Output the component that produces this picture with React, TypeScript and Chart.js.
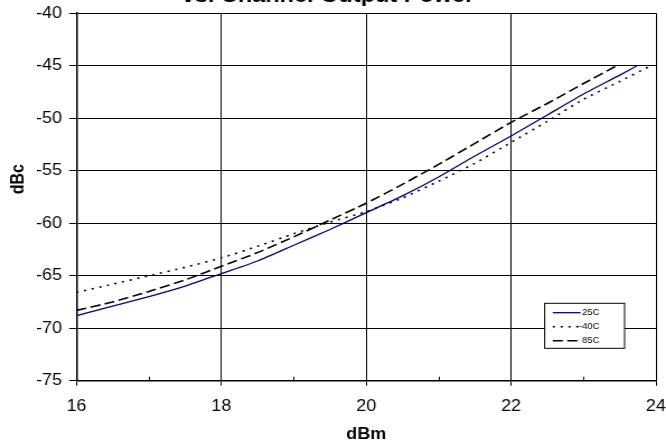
import React, { useEffect, useRef } from 'react';
import { Chart, registerables } from 'chart.js';

Chart.register(...registerables);

const TITLE = 'vs. Channel Output Power';
const X_TITLE = 'dBm';
const Y_TITLE = 'dBc';
const SERIES_LABELS = ['25C', '-40C', '85C'];

const X_25C = [16, 16.5, 17, 17.5, 18, 18.5, 19, 19.5, 20, 20.5, 21, 21.5, 22, 22.5, 23, 23.5, 23.74];
const Y_25C = [-68.8, -67.9, -67.0, -66.0, -64.8, -63.6, -62.1, -60.6, -59.0, -57.4, -55.6, -53.6, -51.7, -49.7, -47.7, -45.9, -45.0];

const X_M40C = [16, 16.5, 17, 17.5, 18, 18.5, 19, 19.5, 20, 20.5, 21, 21.5, 22, 22.5, 23, 23.5, 23.93];
const Y_M40C = [-66.6, -65.8, -65.0, -64.2, -63.3, -62.2, -61.0, -59.9, -58.9, -57.6, -56.0, -54.3, -52.3, -50.3, -48.2, -46.5, -45.0];

const X_85C = [16, 16.5, 17, 17.5, 18, 18.5, 19, 19.5, 20, 20.5, 21, 21.5, 22, 22.5, 23, 23.46];
const Y_85C = [-68.3, -67.5, -66.5, -65.4, -64.1, -62.8, -61.3, -59.7, -58.1, -56.3, -54.4, -52.4, -50.4, -48.6, -46.7, -45.0];

const X_MAJOR_TICKS = [16, 18, 20, 22, 24];
const X_MINOR_TICKS = [17, 19, 21, 23];
const Y_MIN = -75;
const Y_MAX = -40;
const Y_STEP = 5;

const FONT = "'Liberation Sans', Arial, sans-serif";
const CANVAS_W = 595;
const CANVAS_H = 465;
const SHIFT = 20;

const toPoints = (xs: number[], ys: number[]) => xs.map((x, i) => ({ x, y: ys[i] }));

const minorTicks = {
  id: 'minorTicks',
  afterDraw(chart: any) {
    const { ctx, chartArea, scales } = chart;
    ctx.save();
    ctx.strokeStyle = '#000';
    ctx.lineWidth = 1;
    X_MINOR_TICKS.forEach((v) => {
      const px = Math.round(scales.x.getPixelForValue(v)) + 0.5;
      ctx.beginPath();
      ctx.moveTo(px, chartArea.bottom);
      ctx.lineTo(px, chartArea.bottom - 4);
      ctx.stroke();
    });
    ctx.restore();
  },
};

const boxLegend = {
  id: 'boxLegend',
  afterDraw(chart: any) {
    const ctx = chart.ctx;
    const L = 486.6;
    const T = 323.3;
    const W = 71.4;
    const H = 45;
    ctx.save();
    ctx.fillStyle = '#fff';
    ctx.fillRect(L, T, W, H);
    ctx.strokeStyle = '#000';
    ctx.lineWidth = 1;
    ctx.strokeRect(L, T, W, H);
    chart.data.datasets.forEach((ds: any, i: number) => {
      const y = T + 9.4 + i * 14;
      ctx.strokeStyle = ds.borderColor;
      ctx.lineWidth = ds.borderWidth;
      ctx.setLineDash(ds.borderDash || []);
      ctx.beginPath();
      ctx.moveTo(L + 7.2, y);
      ctx.lineTo(L + 32, y);
      ctx.stroke();
      ctx.setLineDash([]);
      ctx.fillStyle = '#000';
      ctx.font = `8.5px ${FONT}`;
      ctx.textAlign = 'right';
      ctx.textBaseline = 'middle';
      ctx.fillText(ds.label, L + 49.1, y);
    });
    ctx.restore();
  },
};

export default function App() {
  const ref = useRef<HTMLCanvasElement | null>(null);

  useEffect(() => {
    if (!ref.current) return;
    Chart.defaults.color = '#000';
    const isMajor = (v: number) => X_MAJOR_TICKS.includes(v);
    const chart = new Chart(ref.current, {
      type: 'line',
      data: {
        datasets: [
          {
            label: SERIES_LABELS[0],
            data: toPoints(X_25C, Y_25C),
            borderColor: '#000080',
            borderWidth: 1.3,
            pointRadius: 0,
            tension: 0.2,
            fill: false,
          },
          {
            label: SERIES_LABELS[1],
            data: toPoints(X_M40C, Y_M40C),
            borderColor: '#000',
            borderWidth: 1.6,
            borderDash: [2, 5],
            pointRadius: 0,
            tension: 0.2,
            fill: false,
          },
          {
            label: SERIES_LABELS[2],
            data: toPoints(X_85C, Y_85C),
            borderColor: '#000',
            borderWidth: 1.6,
            borderDash: [9, 4],
            pointRadius: 0,
            tension: 0.2,
            fill: false,
          },
        ],
      },
      options: {
        animation: false,
        responsive: false,
        devicePixelRatio: 1,
        layout: { padding: { left: 0, right: 9, top: 0, bottom: 0 } },
        plugins: {
          legend: { display: false },
          tooltip: { enabled: false },
          title: {
            display: true,
            text: TITLE,
            color: '#000',
            font: { family: FONT, size: 21, weight: 'bold', lineHeight: 1.2 },
            padding: { top: 4, bottom: 4 },
          },
        },
        scales: {
          x: {
            type: 'linear',
            min: 16,
            max: 24,
            afterFit: (s: any) => {
              s.height = 64.3;
              s.paddingLeft = 0;
              s.paddingRight = 0;
            },
            ticks: {
              stepSize: 1,
              autoSkip: false,
              maxRotation: 0,
              padding: 11.7,
              color: '#000',
              font: { family: FONT, size: 16 },
              callback: (v: any) => (isMajor(Number(v)) ? String(v) : ''),
            },
            grid: {
              color: (c: any) => (c.tick && isMajor(c.tick.value) ? '#000' : 'rgba(0,0,0,0)'),
              tickColor: (c: any) => (c.tick && isMajor(c.tick.value) ? '#000' : 'rgba(0,0,0,0)'),
              lineWidth: 1,
              tickLength: 5,
            },
            border: { color: '#000', width: 1.5 },
            title: {
              display: true,
              text: X_TITLE,
              color: '#000',
              font: { family: FONT, size: 16, weight: 'bold', lineHeight: 1.2 },
              padding: { top: 0, bottom: 0.4 },
            },
          },
          y: {
            type: 'linear',
            min: Y_MIN,
            max: Y_MAX,
            afterFit: (s: any) => {
              s.width = 68.3;
            },
            ticks: {
              stepSize: Y_STEP,
              padding: 6.5,
              color: '#000',
              font: { family: FONT, size: 16 },
            },
            grid: {
              color: '#000',
              tickColor: '#000',
              lineWidth: 1,
              tickLength: 6.4,
            },
            border: { color: '#000', width: 1.5 },
            title: {
              display: true,
              text: '        ' + Y_TITLE,
              color: '#000',
              font: { family: FONT, size: 16, weight: 'bold', lineHeight: 1.2 },
              padding: { top: 6.5, bottom: 0 },
            },
          },
        },
      },
      plugins: [minorTicks, boxLegend],
    } as any);
    return () => chart.destroy();
  }, []);

  return (
    <div
      style={{
        position: 'fixed',
        left: 0,
        top: 0,
        width: 666,
        height: 445,
        overflow: 'hidden',
        background: '#fff',
      }}
    >
      <div
        style={{
          position: 'absolute',
          left: 0,
          top: -SHIFT,
          width: CANVAS_W,
          height: CANVAS_H,
          transform: `scaleX(${666 / CANVAS_W})`,
          transformOrigin: '0 0',
        }}
      >
        <canvas ref={ref} width={CANVAS_W} height={CANVAS_H} />
      </div>
    </div>
  );
}
